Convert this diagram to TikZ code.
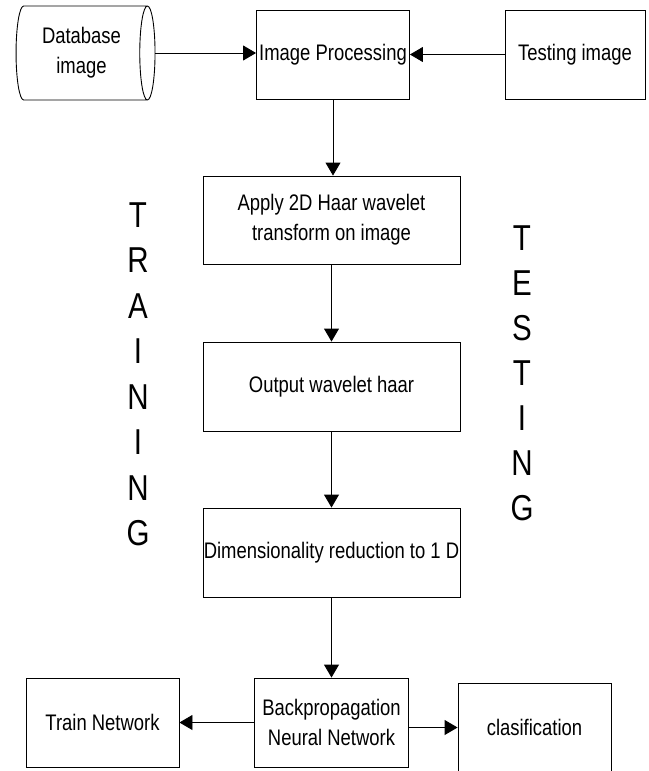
\documentclass[tikz,border=0pt]{standalone}
\usepackage{fontspec}
\setmainfont{Liberation Sans}[FakeStretch=0.82]
\usetikzlibrary{arrows.meta, shapes.geometric}

\begin{document}
\begin{tikzpicture}[x=1pt, y=-1pt,
    box/.style={draw, line width=0.9pt, align=center, inner sep=0pt,
        font=\fontsize{22.5}{30}\selectfont},
    flow/.style={line width=0.9pt, -{Triangle[length=13pt,width=15pt]}},
    bigletter/.style={inner sep=0pt, font=\fontsize{36}{36}\selectfont}
]
\clip (0,0) rectangle (648,771);

% =========================
% Input row
% =========================
\node[box, cylinder, shape aspect=0.3, minimum width=94pt, minimum height=139pt]
    (db) at (81.5,53) {Database\\image};
\node[box, minimum width=153pt, minimum height=89pt] (ip) at (333,54.5) {Image Processing};
\node[box, minimum width=140pt, minimum height=89pt] (tst) at (575,54.5) {Testing image};

% =========================
% Wavelet steps
% =========================
\node[box, minimum width=257pt, minimum height=88pt] (haar) at (331.5,220)
    {Apply 2D Haar wavelet\\transform on image};
\node[box, minimum width=257pt, minimum height=89pt] (out) at (331.5,386.5) {Output wavelet haar};
\node[box, minimum width=257pt, minimum height=89pt] (dim) at (331.5,552.5)
    {Dimensionality reduction to 1 D};

% =========================
% Network row
% =========================
\node[box, minimum width=154pt, minimum height=89pt] (bp) at (331.5,722.5)
    {Backpropagation\\Neural Network};
\node[box, minimum width=153pt, minimum height=89pt] (train) at (102.5,722.5) {Train Network};
\node[box, minimum width=153pt, minimum height=89pt] (cls) at (534.5,727.5) {clasification};

% side labels
\foreach \l [count=\i] in {T,R,A,I,N,I,N,G}
    \node[bigletter] (tr\i) at (138,{215+45.5*(\i-1)}) {\l};
\foreach \l [count=\i] in {T,E,S,T,I,N,G}
    \node[bigletter] (te\i) at (522,{238+45*(\i-1)}) {\l};

% connectors
\draw[flow] (db.east) -- (db.east -| ip.west);
\draw[flow] (tst.west) -- (ip.east);
\draw[flow] (ip.south) -- (ip.south |- haar.north);
\draw[flow] (haar) -- (out);
\draw[flow] (out) -- (dim);
\draw[flow] (dim) -- (bp);
\draw[flow] (bp.west) -- (train.east);
\draw[flow] (bp.east |- cls.west) -- (cls.west);

\end{tikzpicture}
\end{document}
